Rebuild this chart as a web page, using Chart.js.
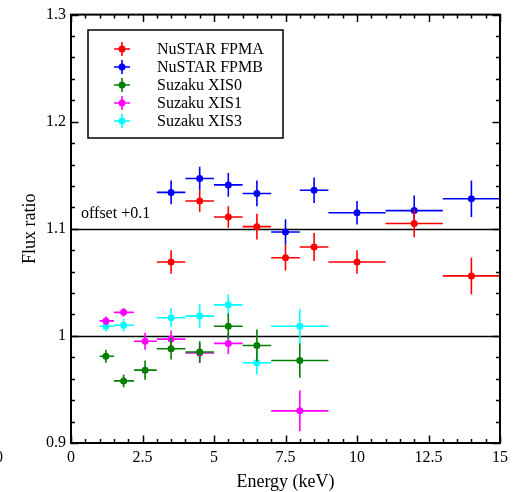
<!DOCTYPE html>
<html>
<head>
<meta charset="utf-8">
<script src="https://cdn.jsdelivr.net/npm/chart.js@4.4.0/dist/chart.umd.min.js"></script>
<style>
  html, body { margin: 0; padding: 0; background: #fff; }
  #wrap { width: 514px; height: 492px; }
</style>
</head>
<body>
<div id="wrap"><canvas id="c" width="514" height="492"></canvas></div>
<script>
// ---- data ----
const seriesNames = ['NuSTAR FPMA', 'NuSTAR FPMB', 'Suzaku XIS0', 'Suzaku XIS1', 'Suzaku XIS3'];
const seriesColors = ['#ff0000', '#0000ff', '#007f00', '#ff00ff', '#00ffff'];

const nuEnergy   = [3.5, 4.5, 5.5, 6.5, 7.5, 8.5, 10, 12, 14];
const nuEnergyLo = [3, 4, 5, 6, 7, 8, 9, 11, 13];
const nuEnergyHi = [4, 5, 6, 7, 8, 9, 11, 13, 15];
const fpma    = [1.069, 1.126, 1.111, 1.102, 1.073, 1.083, 1.069, 1.105, 1.056];
const fpmaErr = [0.011, 0.010, 0.010, 0.012, 0.012, 0.013, 0.011, 0.013, 0.017];
const fpmb    = [1.134, 1.147, 1.141, 1.133, 1.097, 1.136, 1.115, 1.117, 1.128];
const fpmbErr = [0.011, 0.011, 0.011, 0.012, 0.012, 0.012, 0.011, 0.014, 0.017];

const suEnergy   = [1.22, 1.84, 2.59, 3.5, 4.5, 5.5, 6.5, 8.0];
const suEnergyLo = [1.0, 1.5, 2.2, 3, 4, 5, 6, 7];
const suEnergyHi = [1.5, 2.2, 3.0, 4, 5, 6, 7, 9];
const xis0    = [0.981, 0.958, 0.968, 0.988, 0.985, 1.009, 0.991, 0.977];
const xis0Err = [0.006, 0.006, 0.009, 0.010, 0.010, 0.012, 0.015, 0.016];
const xis1    = [1.014, 1.022, 0.995, 0.997, 0.984, 0.993, null, 0.930];
const xis1Err = [0.004, 0.004, 0.008, 0.008, 0.009, 0.010, null, 0.019];
const xis3    = [1.009, 1.010, null, 1.017, 1.0185, 1.029, 0.975, 1.009];
const xis3Err = [0.005, 0.006, null, 0.009, 0.011, 0.010, 0.011, 0.016];

const xTickLabels = ['0', '2.5', '5', '7.5', '10', '12.5', '15'];
const yTickLabels = ['0.9', '1', '1.1', '1.2', '1.3'];
const refLines = [1.0, 1.1];
const offsetNote = 'offset +0.1';

// ---- build datasets ----
function mk(name, color, xs, lo, hi, ys, errs) {
  const pts = [];
  xs.forEach((x, i) => {
    if (ys[i] === null) return;
    pts.push({ x: x, y: ys[i], xlo: lo[i], xhi: hi[i], yerr: errs[i] });
  });
  return {
    label: name, data: pts,
    backgroundColor: color, borderColor: color,
    pointRadius: 3.5, pointHoverRadius: 3.5, pointBorderWidth: 0,
    showLine: false
  };
}
const datasets = [
  mk(seriesNames[0], seriesColors[0], nuEnergy, nuEnergyLo, nuEnergyHi, fpma, fpmaErr),
  mk(seriesNames[1], seriesColors[1], nuEnergy, nuEnergyLo, nuEnergyHi, fpmb, fpmbErr),
  mk(seriesNames[2], seriesColors[2], suEnergy, suEnergyLo, suEnergyHi, xis0, xis0Err),
  mk(seriesNames[3], seriesColors[3], suEnergy, suEnergyLo, suEnergyHi, xis1, xis1Err),
  mk(seriesNames[4], seriesColors[4], suEnergy, suEnergyLo, suEnergyHi, xis3, xis3Err)
];

const FONT = '"Liberation Serif", "DejaVu Serif", serif';

const errPlugin = {
  id: 'errbars',
  beforeDatasetDraw(chart, args) {
    const ds = chart.data.datasets[args.index];
    const xs = chart.scales.x, ys = chart.scales.y;
    const ctx = chart.ctx;
    ctx.save();
    ctx.strokeStyle = ds.borderColor;
    ctx.lineWidth = 1.6;
    ds.data.forEach(p => {
      const px = xs.getPixelForValue(p.x), py = ys.getPixelForValue(p.y);
      ctx.beginPath();
      ctx.moveTo(xs.getPixelForValue(p.xlo), py);
      ctx.lineTo(xs.getPixelForValue(p.xhi), py);
      ctx.moveTo(px, ys.getPixelForValue(p.y - p.yerr));
      ctx.lineTo(px, ys.getPixelForValue(p.y + p.yerr));
      ctx.stroke();
    });
    ctx.restore();
  },
  beforeDatasetsDraw(chart) {
    const xs = chart.scales.x, ys = chart.scales.y, a = chart.chartArea;
    const ctx = chart.ctx;
    ctx.save();
    ctx.strokeStyle = '#000';
    ctx.lineWidth = 1.5;
    refLines.forEach(v => {
      const py = Math.round(ys.getPixelForValue(v)) + 0.5;
      ctx.beginPath(); ctx.moveTo(a.left, py); ctx.lineTo(a.right, py); ctx.stroke();
    });
    ctx.fillStyle = '#000';
    ctx.font = '16px ' + FONT;
    ctx.textAlign = 'left';
    ctx.textBaseline = 'middle';
    ctx.fillText(offsetNote, xs.getPixelForValue(0.35), ys.getPixelForValue(1.114));
    ctx.restore();
  },
  afterDraw(chart) {
    const xs = chart.scales.x, ys = chart.scales.y, a = chart.chartArea;
    const ctx = chart.ctx;
    ctx.save();
    ctx.strokeStyle = '#000';
    ctx.lineWidth = 1.5;
    // ticks
    ctx.beginPath();
    for (let i = 0; i <= 30; i++) {
      const v = i * 0.5;
      const len = (i % 5 === 0) ? 7.5 : 4;
      const px = Math.round(xs.getPixelForValue(v)) + 0.5;
      ctx.moveTo(px, a.bottom); ctx.lineTo(px, a.bottom - len);
      ctx.moveTo(px, a.top); ctx.lineTo(px, a.top + len);
    }
    for (let i = 0; i <= 20; i++) {
      const v = 0.9 + i * 0.02;
      const len = (i % 5 === 0) ? 7.5 : 4;
      const py = Math.round(ys.getPixelForValue(v)) + 0.5;
      ctx.moveTo(a.left, py); ctx.lineTo(a.left + len, py);
      ctx.moveTo(a.right, py); ctx.lineTo(a.right - len, py);
    }
    ctx.stroke();
    ctx.lineWidth = 2;
    ctx.strokeRect(a.left, a.top, a.right - a.left, a.bottom - a.top);

    // legend
    const lx0 = 88, ly0 = 30, lx1 = 283, ly1 = 138;
    ctx.lineWidth = 1.5;
    ctx.strokeRect(lx0, ly0, lx1 - lx0, ly1 - ly0);
    ctx.font = '16px ' + FONT;
    ctx.textBaseline = 'middle';
    ctx.textAlign = 'left';
    chart.data.datasets.forEach((ds, i) => {
      const cy = 49 + i * 18, cx = 122;
      ctx.strokeStyle = ds.borderColor;
      ctx.fillStyle = ds.borderColor;
      ctx.lineWidth = 1.6;
      ctx.beginPath();
      ctx.moveTo(cx - 8, cy); ctx.lineTo(cx + 8, cy);
      ctx.moveTo(cx, cy - 7); ctx.lineTo(cx, cy + 7);
      ctx.stroke();
      ctx.beginPath(); ctx.arc(cx, cy, 3.5, 0, Math.PI * 2); ctx.fill();
      ctx.fillStyle = '#000';
      ctx.fillText(ds.label, 157, cy + 1);
    });

    // stray label from neighbouring panel
    ctx.fillStyle = '#000';
    ctx.textAlign = 'center';
    ctx.fillText('0', -1, 458);
    ctx.restore();
  }
};

new Chart(document.getElementById('c'), {
  type: 'scatter',
  data: { datasets: datasets },
  options: {
    responsive: false,
    animation: false,
    events: [],
    layout: { padding: { top: 14, right: 14, left: 0, bottom: 0 } },
    plugins: { legend: { display: false }, tooltip: { enabled: false } },
    scales: {
      x: {
        type: 'linear', min: 0, max: 15,
        afterFit(s) { s.height = 49; },
        afterBuildTicks(s) { s.ticks = xTickLabels.map(t => ({ value: parseFloat(t) })); },
        grid: { display: false, drawTicks: false },
        border: { display: false },
        ticks: {
          padding: 5, color: '#000', font: { family: FONT, size: 16 },
          maxRotation: 0, autoSkip: false,
          callback: (v) => xTickLabels.find(t => parseFloat(t) === v) || ''
        },
        title: { display: true, text: 'Energy (keV)', color: '#000',
                 font: { family: FONT, size: 18, lineHeight: 1 }, padding: { top: 0, bottom: 1 } }
      },
      y: {
        type: 'linear', min: 0.9, max: 1.3,
        afterFit(s) { s.width = 71; },
        afterBuildTicks(s) { s.ticks = yTickLabels.map(t => ({ value: parseFloat(t) })); },
        grid: { display: false, drawTicks: false },
        border: { display: false },
        ticks: {
          padding: 5, color: '#000', font: { family: FONT, size: 16 },
          autoSkip: false,
          callback: (v) => yTickLabels.find(t => Math.abs(parseFloat(t) - v) < 1e-9) || ''
        },
        title: { display: true, text: 'Flux ratio', color: '#000',
                 font: { family: FONT, size: 18, lineHeight: 1 }, padding: { top: 21, bottom: 0 } }
      }
    }
  },
  plugins: [errPlugin]
});
</script>
</body>
</html>
